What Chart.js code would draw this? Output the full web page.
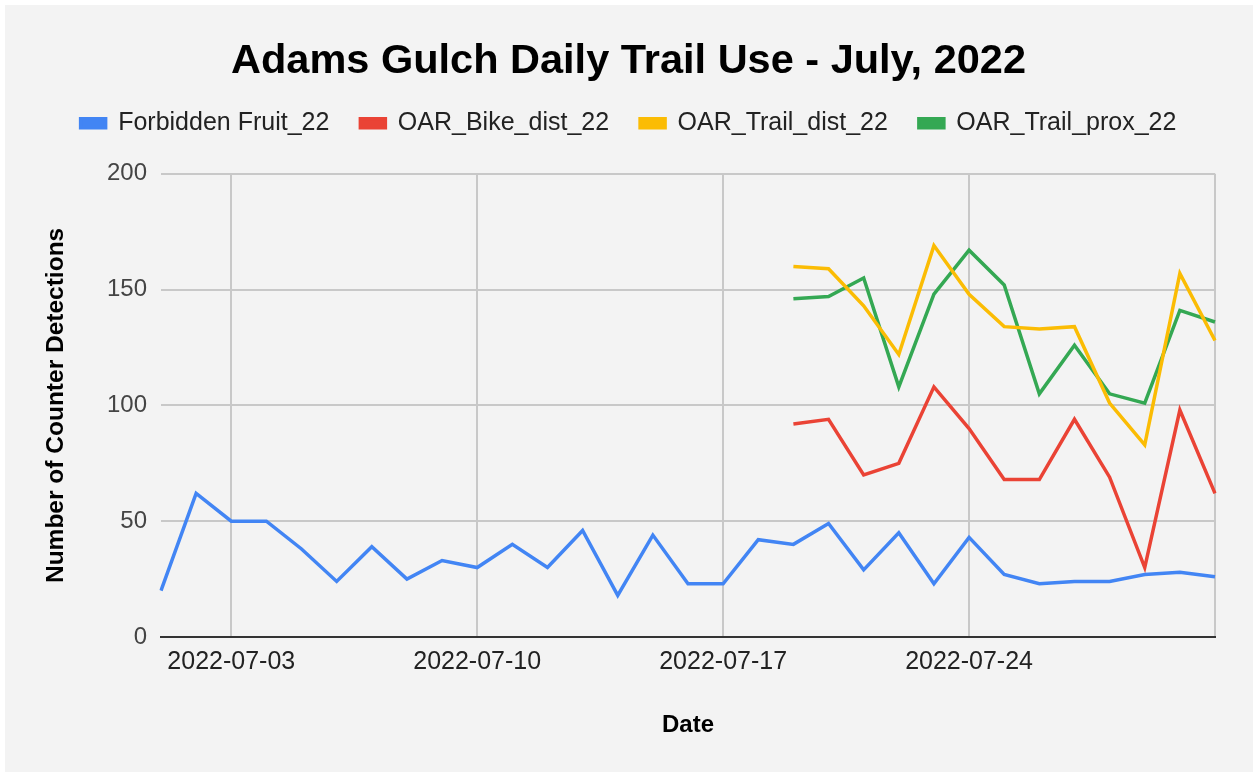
<!DOCTYPE html>
<html>
<head>
<meta charset="utf-8">
<script src="https://cdn.jsdelivr.net/npm/chart.js@4.4.0/dist/chart.umd.min.js"></script>
<style>
  html, body { margin: 0; padding: 0; background: #ffffff; }
  #wrap { position: absolute; left: 5px; top: 5px; width: 1248px; height: 767px; background: #f3f3f3; }
</style>
</head>
<body>
<div id="wrap"><canvas id="trailChart"></canvas></div>
<script>
const dates = [
  '2022-07-01', '2022-07-02', '2022-07-03', '2022-07-04', '2022-07-05', '2022-07-06', '2022-07-07',
  '2022-07-08', '2022-07-09', '2022-07-10', '2022-07-11', '2022-07-12', '2022-07-13', '2022-07-14',
  '2022-07-15', '2022-07-16', '2022-07-17', '2022-07-18', '2022-07-19', '2022-07-20', '2022-07-21',
  '2022-07-22', '2022-07-23', '2022-07-24', '2022-07-25', '2022-07-26', '2022-07-27', '2022-07-28',
  '2022-07-29', '2022-07-30', '2022-07-31'
];
const xTickDates = ['2022-07-03', '2022-07-10', '2022-07-17', '2022-07-24'];
const yTicks = [0, 50, 100, 150, 200];

const forbiddenFruit = [20, 62, 50, 50, 38, 24, 39, 25, 33, 30, 40, 30, 46, 18, 44, 23,
  23, 42, 40, 49, 29, 45, 23, 43, 27, 23, 24, 24, 27, 28, 26];
const oarBikeDist = [null, null, null, null, null, null, null, null, null, null, null, null,
  null, null, null, null, null, null, 92, 94, 70, 75, 108, 90, 68, 68, 94, 69, 30, 98, 62];
const oarTrailDist = [null, null, null, null, null, null, null, null, null, null, null, null,
  null, null, null, null, null, null, 160, 159, 143, 122, 169, 148, 134, 133, 134, 101, 83, 157, 128];
const oarTrailProx = [null, null, null, null, null, null, null, null, null, null, null, null,
  null, null, null, null, null, null, 146, 147, 155, 108, 148, 167, 152, 105, 126, 105, 101, 141, 136];

Chart.defaults.font.family = "'Liberation Sans', Arial, sans-serif";

// push the plot area down below the legend
const legendGap = {
  id: 'legendGap',
  afterInit(chart) {
    const legend = chart.legend;
    if (!legend) return;
    const fit = legend.fit;
    legend.fit = function () {
      fit.call(this);
      this.height += 28;
    };
  }
};

const line = (label, data, color) => ({
  label, data,
  borderColor: color,
  backgroundColor: color,
  borderWidth: 3.5,
  pointRadius: 0,
  pointHoverRadius: 0,
  tension: 0,
  spanGaps: false
});

const ctx = document.getElementById('trailChart').getContext('2d');
new Chart(ctx, {
  type: 'line',
  data: {
    labels: dates,
    datasets: [
      line('Forbidden Fruit_22', forbiddenFruit, '#4285f4'),
      line('OAR_Bike_dist_22', oarBikeDist, '#ea4335'),
      line('OAR_Trail_dist_22', oarTrailDist, '#fbbc04'),
      line('OAR_Trail_prox_22', oarTrailProx, '#34a853')
    ]
  },
  options: {
    responsive: true,
    maintainAspectRatio: false,
    animation: false,
    layout: { padding: { left: 37, right: 38, top: 0, bottom: 0 } },
    plugins: {
      title: {
        display: true,
        text: 'Adams Gulch Daily Trail Use - July, 2022',
        color: '#000',
        font: { size: 41.5, weight: 'bold' },
        padding: { top: 32, bottom: -7 }
      },
      legend: {
        display: true,
        position: 'top',
        labels: {
          color: '#222',
          font: { size: 25 },
          boxWidth: 25,
          boxHeight: 9,
          padding: 31
        }
      },
      tooltip: { enabled: false }
    },
    scales: {
      x: {
        type: 'category',
        offset: false,
        afterBuildTicks: scale => {
          scale.ticks = scale.ticks.filter(t =>
            xTickDates.includes(dates[t.value]) || t.value === dates.length - 1);
        },
        afterFit: scale => { scale.height = 135; },
        ticks: {
          autoSkip: false,
          maxRotation: 0,
          minRotation: 0,
          padding: 10,
          color: '#222',
          font: { size: 25 },
          callback: value => xTickDates.includes(dates[value]) ? dates[value] : ''
        },
        grid: { color: '#c8c8c8', lineWidth: 2, drawTicks: false },
        border: { display: true, color: '#333', width: 2 },
        title: {
          display: true,
          text: 'Date',
          color: '#000',
          font: { size: 24, weight: 'bold' },
          padding: { top: 20, bottom: 32 }
        }
      },
      y: {
        min: 0,
        max: 200,
        afterBuildTicks: scale => { scale.ticks = yTicks.map(v => ({ value: v })); },
        afterFit: scale => { scale.width = 119; },
        ticks: { color: '#444', font: { size: 24 }, padding: 14 },
        grid: {
          color: c => c.tick && c.tick.value === 0 ? '#333' : '#c8c8c8',
          lineWidth: 2,
          drawTicks: false
        },
        border: { display: false },
        title: {
          display: true,
          text: 'Number of Counter Detections',
          color: '#000',
          font: { size: 24.5, weight: 'bold' },
          padding: { top: 0, bottom: 0 }
        }
      }
    }
  },
  plugins: [legendGap]
});
</script>
</body>
</html>
